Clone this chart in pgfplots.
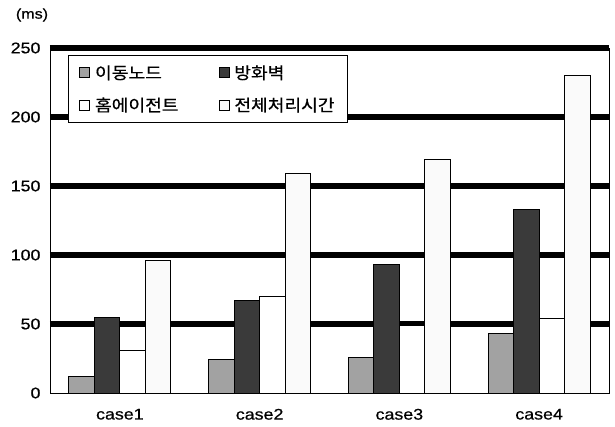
\documentclass[border=0pt]{standalone}
\usepackage{pgfplots}
\pgfplotsset{compat=1.18}
\usepackage{fontspec}
\setmainfont[FakeStretch=1.15,FakeBold=0.6]{Liberation Sans}
\newfontfamily\kr[FakeStretch=1.1,FakeBold=0.5]{Noto Sans CJK KR}
\definecolor{gA}{HTML}{A2A2A2}
\definecolor{gB}{HTML}{3A3A3A}
\definecolor{gD}{HTML}{FAFAFA}
\begin{document}
\begin{tikzpicture}
\begin{axis}[
  scale only axis, width=559pt, height=345pt,
  ymin=0, ymax=250, xmin=0.5, xmax=4.5,
  ytick={50,100,150,200,250},
  extra y ticks={0}, extra y tick style={grid=none},
  xtick={1,2,3,4}, xticklabels={case1,case2,case3,case4},
  extra x ticks={1.5,2.5,3.5}, extra x tick labels={},
  extra x tick style={major tick length=4pt, tick align=inside, major tick style={draw=black, line width=0.8pt}},
  major x tick style={draw=none},
  major y tick style={draw=none},
  ymajorgrids, major grid style={line width=6pt, black},
  axis line style={line width=0.8pt},
  /pgf/number format/assume math mode=true,
  tick label style={font=\fontsize{15.5}{18}\selectfont},
  yticklabel style={xshift=-6pt},
  xticklabel style={yshift=-8pt},
  ybar=0pt, bar width=25.5pt,
  every axis plot/.append style={draw=black, line width=0.8pt},
  legend columns=2,
  legend cell align=left,
  legend image code/.code={\draw[#1, line width=0.8pt] (0pt,-5pt) rectangle (10pt,5pt);},
  legend style={at={(0.032,0.98)}, anchor=north west, draw=black, line width=0.8pt,
    font=\kr\fontsize{16.5}{19}\selectfont, row sep=13pt, inner xsep=11pt, inner ysep=8pt,
    /tikz/every odd column/.append style={column sep=3pt},
    /tikz/every even column/.append style={column sep=38pt}},
]
\addplot[fill=gA] coordinates {(1,12) (2,24) (3,26) (4,43)};
\addplot[fill=gB] coordinates {(1,55) (2,67) (3,93) (4,133)};
\addplot[fill=white] coordinates {(1,31) (2,70) (3,49) (4,54)};
\addplot[fill=gD] coordinates {(1,96) (2,159) (3,169) (4,230)};
\legend{이동노드,방화벽,홈에이전트,전체처리시간}
\end{axis}
\node[font=\fontsize{14}{16}\selectfont] at ([xshift=-18pt,yshift=33pt]current axis.north west) {(ms)};
\path ([xshift=-50pt,yshift=-33pt]current axis.south west) rectangle ([xshift=6pt,yshift=48pt]current axis.north east);
\end{tikzpicture}
\end{document}
